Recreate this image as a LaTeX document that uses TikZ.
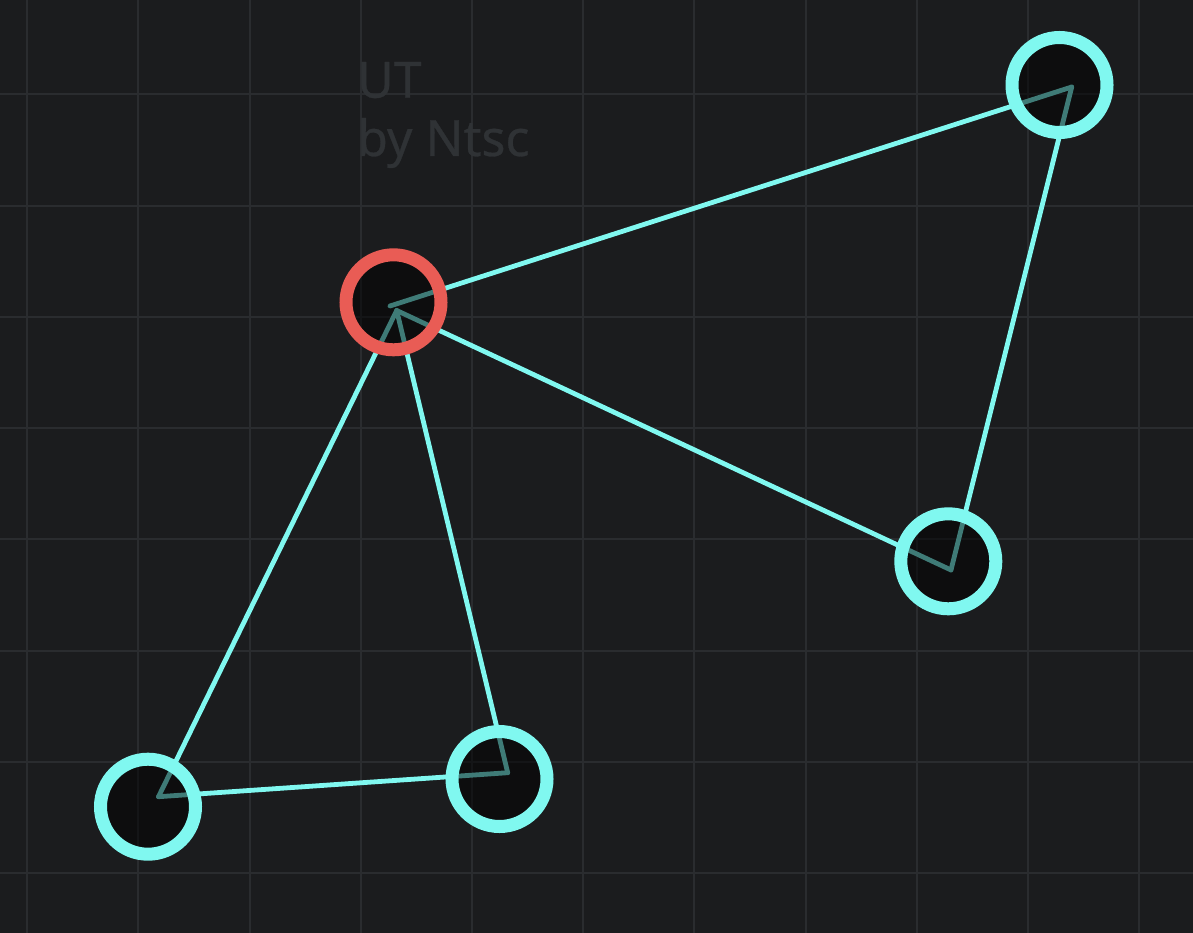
\documentclass[tikz,border=0pt]{standalone}
\usepackage{fontspec}
\setmainfont{Noto Sans}[FakeBold=0.6]
\definecolor{bgc}{HTML}{1B1C1E}
\definecolor{gridc}{HTML}{2A2C2F}
\definecolor{cyanc}{HTML}{80F8F0}
\definecolor{redc}{HTML}{E95C55}
\definecolor{txtc}{HTML}{2F3235}
\begin{document}
\begin{tikzpicture}[x=1pt,y=-1pt,
  gridline/.style={draw=gridc,line width=2pt},
  edge/.style={draw=cyanc,line width=4.8pt,line cap=round},
  vtx/.style={circle,minimum size=95pt,inner sep=0pt,line width=13pt,draw=cyanc,fill=black,fill opacity=0.5,draw opacity=1},
  hub/.style={vtx,draw=redc},
  title/.style={anchor=base west,text=txtc,font=\bfseries\fontsize{50}{58}\selectfont,inner sep=0pt}]
\fill[bgc] (0,0) rectangle (1193,933);
\useasboundingbox (0,0) rectangle (1193,933);
\foreach \k in {0,...,10} {\draw[gridline] ({27.1+\k*111.2},0) -- ({27.1+\k*111.2},933);}
\foreach \k in {0,...,7} {\draw[gridline] (0,{94.5+\k*111.2}) -- (1193,{94.5+\k*111.2});}
\node[title] (t1) at (357,97.7) {UT};
\node[title] (t2) at (357,156) {by Ntsc};
% connector end points
\coordinate (pA1) at (390,306);
\coordinate (pA2) at (396.7,310.5);
\coordinate (pB) at (1071.7,87);
\coordinate (pC) at (951,570);
\coordinate (pD) at (158.5,796.7);
\coordinate (pE) at (507.7,772.7);
\draw[edge] (pA1) -- (pB);
\draw[edge] (pB) -- (pC);
\draw[edge] (pA2) -- (pC);
\draw[edge] (pA2) -- (pD);
\draw[edge] (pA2) -- (pE);
\draw[edge] (pD) -- (pE);
% vertices
\node[hub] (A) at (393.5,302.3) {};
\node[vtx] (B) at (1059.5,85) {};
\node[vtx] (C) at (948.3,561.3) {};
\node[vtx] (D) at (148,806.7) {};
\node[vtx] (E) at (499.5,779) {};
\end{tikzpicture}
\end{document}
